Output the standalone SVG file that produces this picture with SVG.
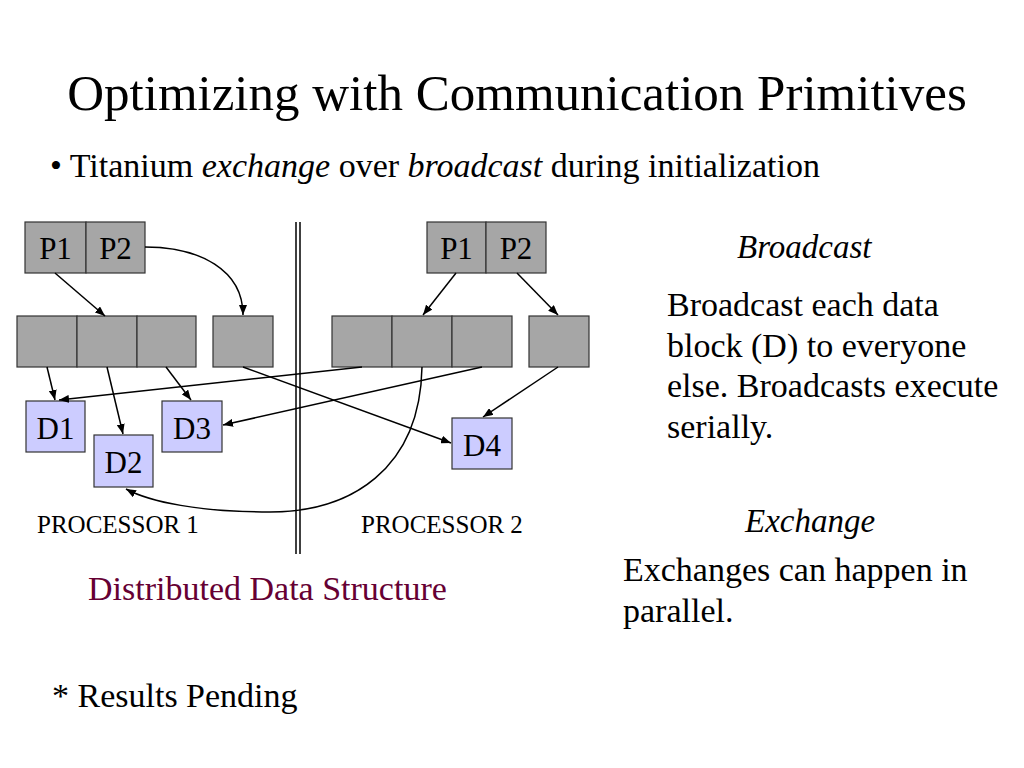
<svg xmlns="http://www.w3.org/2000/svg" width="1024" height="768" viewBox="0 0 1024 768">
<style>
text{font-family:"Liberation Serif","Times New Roman",serif;fill:#000}
.g{fill:#a6a6a6;stroke:#333;stroke-width:1.2}
.d{fill:#ccccff;stroke:#333;stroke-width:1.2}
.c{fill:none;stroke:#000;stroke-width:1.5;marker-end:url(#ah)}
.box{font-size:31px}
.body{font-size:34px}
</style>
<defs>
<marker id="ah" markerWidth="10" markerHeight="8" refX="10" refY="4" orient="auto" markerUnits="userSpaceOnUse">
<path d="M0,0 L10,4 L0,8 Z" fill="#000"/>
</marker>
</defs>
<rect width="1024" height="768" fill="#fff"/>
<text x="517" y="110" font-size="51" text-anchor="middle">Optimizing with Communication Primitives</text>
<text x="50" y="177" font-size="34">• Titanium <tspan font-style="italic">exchange</tspan> over <tspan font-style="italic">broadcast</tspan> during initialization</text>

<g id="divider">
<line x1="296" y1="222" x2="296" y2="554" stroke="#000" stroke-width="1.5"/>
<line x1="300" y1="222" x2="300" y2="554" stroke="#000" stroke-width="1.5"/>
</g>

<g id="p1-procs">
<rect class="g" x="25" y="222" width="61" height="51"/>
<rect class="g" x="86" y="222" width="59" height="51"/>
<text class="box" x="55.5" y="259" text-anchor="middle">P1</text>
<text class="box" x="115.5" y="259" text-anchor="middle">P2</text>
</g>
<g id="p1-row">
<rect class="g" x="17" y="316" width="60" height="51"/>
<rect class="g" x="77" y="316" width="60" height="51"/>
<rect class="g" x="137" y="316" width="59" height="51"/>
</g>
<g id="p1-extra"><rect class="g" x="213" y="316" width="60" height="51"/></g>
<g id="D1"><rect class="d" x="26" y="401" width="59" height="51"/><text class="box" x="55.5" y="439" text-anchor="middle">D1</text></g>
<g id="D2"><rect class="d" x="94" y="435" width="59" height="52"/><text class="box" x="123.5" y="473" text-anchor="middle">D2</text></g>
<g id="D3"><rect class="d" x="162" y="401" width="60" height="51"/><text class="box" x="192" y="439" text-anchor="middle">D3</text></g>

<g id="p2-procs">
<rect class="g" x="427" y="222" width="59" height="51"/>
<rect class="g" x="486" y="222" width="60" height="51"/>
<text class="box" x="456.5" y="259" text-anchor="middle">P1</text>
<text class="box" x="516" y="259" text-anchor="middle">P2</text>
</g>
<g id="p2-row">
<rect class="g" x="332" y="316" width="60" height="51"/>
<rect class="g" x="392" y="316" width="60" height="51"/>
<rect class="g" x="452" y="316" width="60" height="51"/>
</g>
<g id="p2-extra"><rect class="g" x="529" y="316" width="60" height="51"/></g>
<g id="D4"><rect class="d" x="452" y="418" width="60" height="51"/><text class="box" x="482" y="456" text-anchor="middle">D4</text></g>

<g id="connectors">
<path class="c" d="M55,273 L105,316"/>
<path class="c" d="M145,247 C200,247 243,270 243,315"/>
<path class="c" d="M47,367 L55,400"/>
<path class="c" d="M107,367 L123,434"/>
<path class="c" d="M166,367 L191,400"/>
<path class="c" d="M243,367 L451,443"/>
<path class="c" d="M362,367 L59,400"/>
<path class="c" d="M482,367 L223,425"/>
<path class="c" d="M422,367 C420,470 350,512 270,512 C200,512 150,502 126,489"/>
<path class="c" d="M456,273 L423,315"/>
<path class="c" d="M517,273 L558,315"/>
<path class="c" d="M558,367 L483,417"/>
</g>

<text x="37" y="533" font-size="25">PROCESSOR 1</text>
<text x="361" y="533" font-size="25">PROCESSOR 2</text>
<text x="88" y="600" font-size="34" style="fill:#660033">Distributed Data Structure</text>

<text x="737" y="258" font-size="33" font-style="italic">Broadcast</text>
<text class="body" x="667" y="316">Broadcast each data</text>
<text class="body" x="667" y="357">block (D) to everyone</text>
<text class="body" x="667" y="397">else. Broadcasts execute</text>
<text class="body" x="667" y="438">serially.</text>

<text x="745" y="532" font-size="33" font-style="italic">Exchange</text>
<text class="body" x="623" y="581">Exchanges can happen in</text>
<text class="body" x="623" y="622">parallel.</text>

<text x="52" y="707" font-size="34">* Results Pending</text>
</svg>
